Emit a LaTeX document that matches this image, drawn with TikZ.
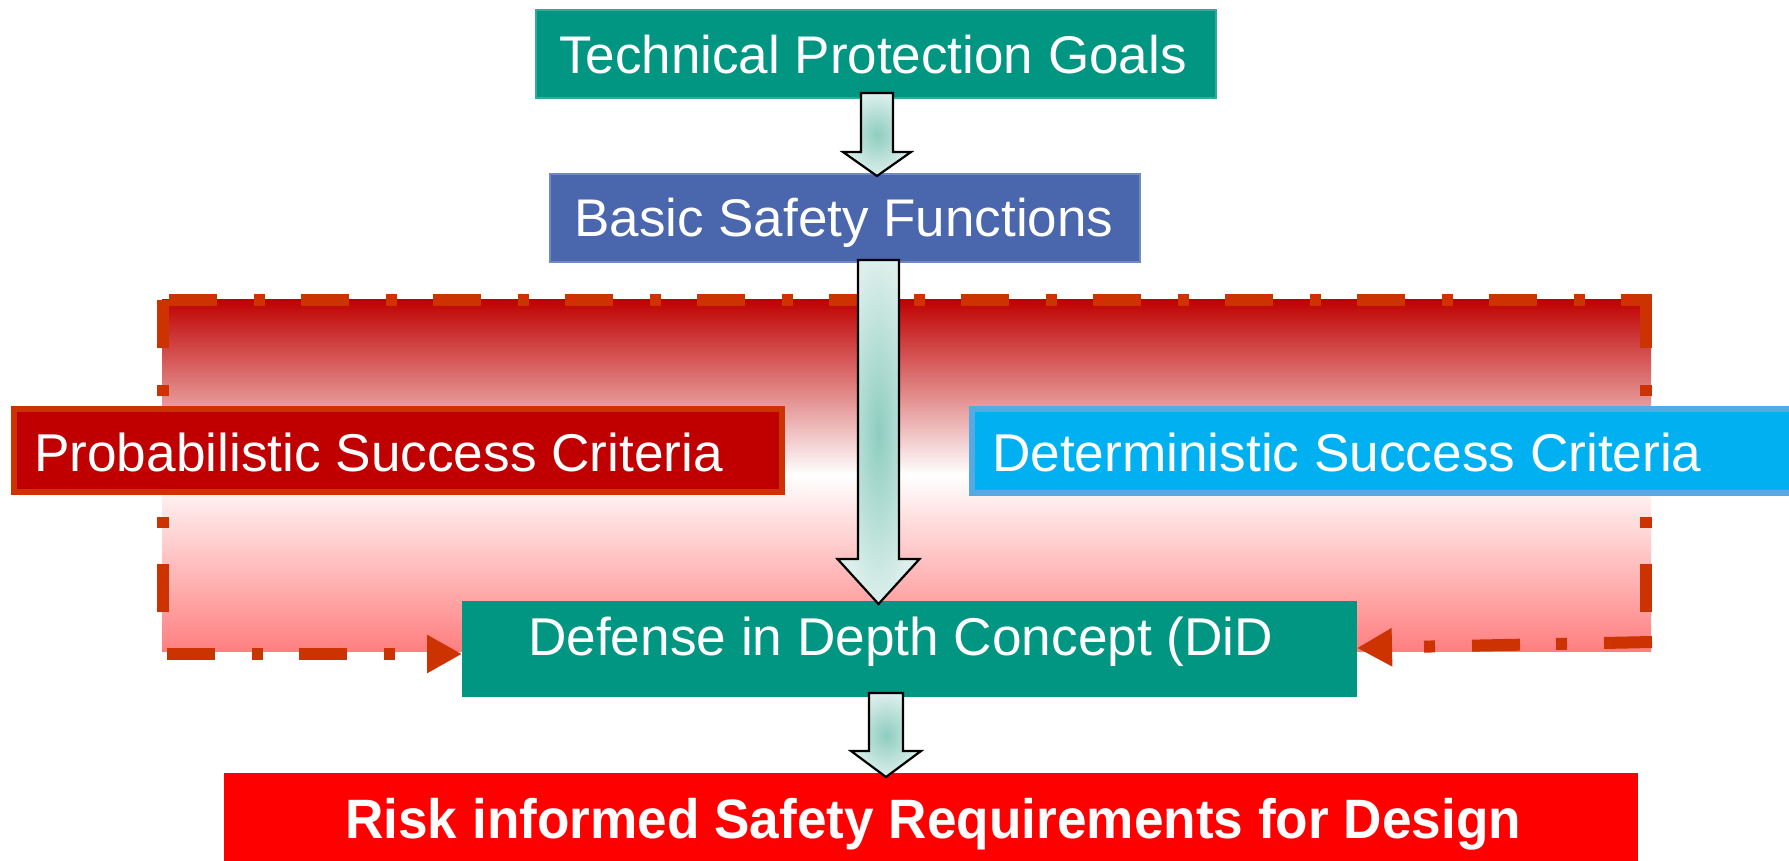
\documentclass[tikz,border=0pt]{standalone}
\usepackage{fontspec}
\setmainfont{Liberation Sans}
\usetikzlibrary{arrows.meta,calc}
\definecolor{teal1}{HTML}{009682}
\definecolor{tealedge}{HTML}{33AA98}
\definecolor{bsfblue}{HTML}{4A66AC}
\definecolor{bsfedge}{HTML}{6F89C6}
\definecolor{pscred}{HTML}{C00000}
\definecolor{orng}{HTML}{CC3300}
\definecolor{dscblue}{HTML}{00B0F0}
\definecolor{dscedge}{HTML}{55AAE2}
\definecolor{riskred}{HTML}{FF0000}
\definecolor{bandtop}{HTML}{C00000}
\definecolor{bandbot}{HTML}{FF7F80}
\definecolor{arrin}{HTML}{8ECDBF}
\definecolor{arrout}{HTML}{DCEFEB}
\newcommand\blockarr[5]{%
  \shadedraw[barrow] let \p1=(#1), \p2=(#2) in
   ({\x2-#3pt},\y1) -- ({\x2+#3pt},\y1) -- ({\x2+#3pt},{\y2+#5pt}) --
   ({\x2+#4pt},{\y2+#5pt}) -- (\x2,\y2) -- ({\x2-#4pt},{\y2+#5pt}) --
   ({\x2-#3pt},{\y2+#5pt}) -- cycle;}
\begin{document}
\begin{tikzpicture}[x=1pt,y=-1pt,
  box/.style={rectangle, inner sep=0pt, outer sep=0pt},
  txt/.style={text=white, inner sep=0pt, font=\fontsize{53.2}{60}\selectfont},
  dd/.style={draw=orng, line width=12pt, line cap=butt, dash pattern=on 48pt off 37pt on 11pt off 36pt},
  tipd/.style={-{Triangle[length=35pt,width=36pt]}},
  barrow/.style={draw=black, line width=2.2pt, inner color=arrin, outer color=arrout, line join=miter}]
\useasboundingbox (0,0) rectangle (1789,861);
% background band
\shade[top color=bandtop, bottom color=bandbot, middle color=white] (162,299) rectangle (1651,651);
% boxes (needed for anchors)
\node[box, fill=teal1, minimum width=895pt, minimum height=96pt] (did) at (909.5,649) {};
% dash-dot frame and arrows
\coordinate (tl) at (163,300);
\coordinate (tr) at (1646,300);
\coordinate (bl) at (163,648);
\coordinate (br) at (1646,642);
\coordinate (blstart) at (167,654);
\coordinate (brstart) at (1652,642);
\draw[dd] (169,300) -- (1652,300);
\draw[dd] (tl) -- (bl);
\draw[dd] (tr) -- (br);
\draw[dd,tipd] (blstart) -- ($(did.west)+(0,5)$);
\draw[dd,tipd] (brstart) -- ($(did.east)+(0,-1)$);
% side boxes
\node[box, fill=pscred, draw=orng, line width=6pt, minimum width=768pt, minimum height=83pt] (psc) at (398,450.5) {};
\node[txt, anchor=base west] (psct) at (34,471) {Probabilistic Success Criteria};
\node[box, fill=dscblue, draw=dscedge, line width=6pt, minimum width=838pt, minimum height=84pt] (dsc) at (1391,451) {};
\node[txt, anchor=base west] (dsct) at (992,471) {Deterministic Success Criteria};
% DiD text
\node[txt, anchor=base west] (didt) at (528,655) {Defense in Depth Concept (DiD};
% top boxes
\node[box, fill=teal1, draw=tealedge, line width=1.5pt, minimum width=680pt, minimum height=88pt] (tpg) at (876,54) {};
\node[txt, anchor=base west, font=\fontsize{53}{60}\selectfont] (tpgt) at (559,74) {Technical Protection Goals};
\node[box, fill=bsfblue, draw=bsfedge, line width=1.5pt, minimum width=590pt, minimum height=88pt] (bsf) at (845,218) {};
\node[txt, anchor=base west, font=\fontsize{53}{60}\selectfont] (bsft) at (574,237) {Basic Safety Functions};
% bottom box
\node[box, fill=riskred, minimum width=1414pt, minimum height=92pt] (risk) at (931,819) {};
\node[txt, anchor=base west, font=\fontsize{55.5}{62}\selectfont\bfseries] (riskt) at (345,838) {\scalebox{0.958}[1]{Risk informed Safety Requirements for Design}};
% block arrows
\coordinate (a1s) at (877,93);
\coordinate (a1e) at (877,176);
\coordinate (a2s) at (878.5,260);
\coordinate (a2e) at (878.5,604);
\coordinate (a3s) at (886,693);
\coordinate (a3e) at (886,777);
\blockarr{a1s}{a1e}{16}{34}{24}
\blockarr{a2s}{a2e}{20.5}{41}{45}
\blockarr{a3s}{a3e}{17}{35}{26}
\end{tikzpicture}
\end{document}
